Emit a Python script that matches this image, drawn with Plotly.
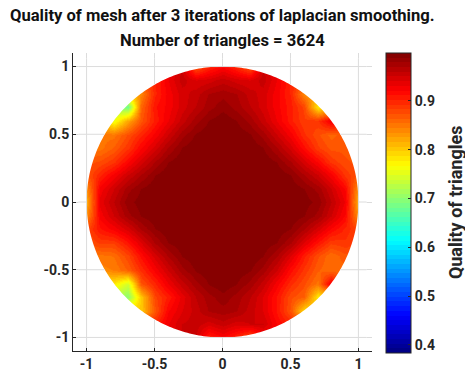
import numpy as np
import plotly.graph_objects as go

grid_x = [-1.0, -0.9, -0.8, -0.7, -0.6, -0.5, -0.4, -0.3, -0.2, -0.1, 0.0, 0.1, 0.2, 0.3, 0.4, 0.5, 0.6, 0.7, 0.8, 0.9, 1.0]
grid_y = [1.0, 0.9, 0.8, 0.7, 0.6, 0.5, 0.4, 0.3, 0.2, 0.1, 0.0, -0.1, -0.2, -0.3, -0.4, -0.5, -0.6, -0.7, -0.8, -0.9, -1.0]

# triangle quality, top row is y = 1
quality = [
    [.90, .90, .90, .90, .90, .90, .93, .95, .87, .90, .92, .90, .87, .95, .93, .90, .90, .90, .90, .90, .90],
    [.88, .88, .88, .88, .88, .90, .93, .955, .94, .945, .955, .945, .94, .955, .93, .90, .88, .88, .88, .88, .88],
    [.80, .80, .80, .80, .84, .90, .925, .945, .955, .97, .975, .97, .955, .945, .925, .90, .84, .82, .82, .82, .82],
    [.80, .80, .72, .68, .86, .91, .925, .945, .96, .975, .985, .975, .96, .945, .925, .905, .88, .78, .80, .85, .85],
    [.82, .82, .76, .82, .87, .905, .93, .955, .975, .989, .996, .989, .975, .955, .93, .905, .885, .89, .93, .90, .90],
    [.85, .85, .85, .875, .90, .925, .95, .975, .99, .996, .996, .996, .99, .975, .95, .925, .895, .875, .86, .87, .87],
    [.85, .85, .865, .89, .92, .945, .97, .989, .996, .996, .996, .996, .996, .989, .97, .945, .915, .885, .87, .87, .87],
    [.87, .875, .89, .92, .945, .97, .988, .996, .996, .996, .996, .996, .996, .996, .988, .97, .945, .92, .89, .875, .87],
    [.87, .90, .925, .95, .97, .988, .996, .996, .996, .996, .996, .996, .996, .996, .996, .988, .97, .95, .925, .89, .87],
    [.84, .925, .95, .975, .989, .996, .996, .996, .996, .996, .996, .996, .996, .996, .996, .996, .989, .975, .95, .92, .83],
    [.82, .935, .96, .985, .993, .996, .996, .996, .996, .996, .996, .996, .996, .996, .996, .996, .993, .985, .96, .93, .81],
    [.84, .925, .95, .975, .989, .996, .996, .996, .996, .996, .996, .996, .996, .996, .996, .996, .989, .975, .95, .92, .83],
    [.88, .91, .925, .945, .97, .988, .996, .996, .996, .996, .996, .996, .996, .996, .996, .988, .97, .945, .92, .90, .88],
    [.87, .885, .885, .91, .94, .97, .988, .996, .996, .996, .996, .996, .996, .996, .988, .97, .94, .91, .885, .89, .88],
    [.85, .85, .855, .88, .915, .945, .97, .989, .996, .996, .996, .996, .996, .989, .97, .94, .905, .875, .855, .87, .87],
    [.84, .84, .845, .865, .895, .925, .95, .975, .99, .996, .996, .996, .99, .975, .95, .915, .89, .865, .855, .86, .86],
    [.78, .78, .78, .74, .87, .90, .93, .955, .975, .989, .996, .989, .975, .955, .925, .895, .875, .85, .93, .85, .85],
    [.78, .78, .72, .70, .80, .88, .905, .935, .96, .975, .985, .975, .96, .94, .91, .875, .865, .78, .80, .80, .80],
    [.80, .80, .80, .80, .80, .87, .92, .94, .955, .97, .975, .97, .955, .94, .91, .87, .79, .80, .80, .80, .80],
    [.88, .88, .88, .88, .88, .90, .93, .95, .955, .945, .955, .945, .95, .95, .92, .90, .88, .88, .88, .88, .88],
    [.90, .90, .90, .90, .90, .90, .93, .95, .95, .90, .92, .90, .87, .92, .92, .90, .90, .90, .90, .90, .90],
]

tick_vals = [-1, -0.5, 0, 0.5, 1]
tick_text = ['-1', '-0.5', '0', '0.5', '1']
bar_vals = [0.4, 0.5, 0.6, 0.7, 0.8, 0.9]
bar_text = ['0.4', '0.5', '0.6', '0.7', '0.8', '0.9']
title_lines = ['Quality of mesh after 3 iterations of laplacian smoothing.', 'Number of triangles = 3624']
bar_title = 'Quality of triangles'

# matlab jet with 64 flat levels
levels = 64
jet = []
for i in range(levels):
    v = (i + 0.5) / levels
    r, g, b = [int(255 * np.clip(1.5 - abs(4 * v - c), 0, 1)) for c in (3, 2, 1)]
    jet.append([i / levels, f'rgb({r},{g},{b})'])
    jet.append([(i + 1) / levels, f'rgb({r},{g},{b})'])

tick_font = dict(family='Roboto', size=14, color='#262626', weight='bold')

fig = go.Figure(go.Heatmap(
    x=grid_x,
    y=grid_y,
    z=quality,
    zsmooth='best',
    zmin=0.3836,
    zmax=0.998,
    colorscale=jet,
    hoverinfo='skip',
    colorbar=dict(
        x=1.048, xanchor='left', xpad=0,
        y=1, yanchor='top', ypad=0,
        lenmode='pixels', len=300,
        thicknessmode='pixels', thickness=25,
        outlinecolor='#262626', outlinewidth=1,
        ticks='inside', ticklen=3, tickcolor='#262626',
        tickvals=bar_vals, ticktext=bar_text, tickfont=tick_font,
    ),
))

# white outside the unit circle, grid lines go back on top of it
t = np.linspace(0, 2 * np.pi, 361)
edge = 1.06
path = f'M {-edge} {-edge} L {edge} {-edge} L {edge} {edge} L {-edge} {edge} Z M '
path += ' L '.join(f'{np.cos(a):.4f} {np.sin(a):.4f}' for a in t) + ' Z'
shapes = [dict(type='path', path=path, fillcolor='white', line_width=0, layer='above')]
grid_line = dict(color='#dcdcdc', width=1)
for v in tick_vals:
    h = np.sqrt(1 - v ** 2)
    for a, b in [(h, edge), (-edge, -h)]:
        shapes.append(dict(type='line', x0=v, x1=v, y0=a, y1=b, line=grid_line, layer='above'))
        shapes.append(dict(type='line', y0=v, y1=v, x0=a, x1=b, line=grid_line, layer='above'))

# the title lines sit above the axes, placed in paper units
notes = [
    dict(text=line, xref='paper', yref='paper', x=0.5, y=1 + dy / 298, xanchor='center', yanchor='middle',
         showarrow=False, font=dict(family='Roboto', size=16.6, color='#111111', weight='bold'))
    for line, dy in zip(title_lines, [37, 13])
]
notes.append(dict(text=bar_title, xref='paper', yref='paper', x=1.278, y=0.5, xanchor='center', yanchor='middle',
                  textangle=-90, showarrow=False,
                  font=dict(family='Roboto', size=18, color='#262626', weight='bold')))

# the page adds 8px of body margin, so the figure starts 8px in
fig.update_layout(
    width=465,
    height=380,
    margin=dict(l=65, r=101, t=45, b=37),
    paper_bgcolor='white',
    plot_bgcolor='white',
    annotations=notes,
    shapes=shapes,
)
axis = dict(
    tickvals=tick_vals, ticktext=tick_text, tickfont=tick_font,
    range=[-1.1, 1.1], showgrid=True, gridcolor='#dcdcdc', gridwidth=1, zeroline=False,
    showline=True, linecolor='#262626', linewidth=1,
    ticks='inside', ticklen=3, tickcolor='#262626',
)
fig.update_xaxes(**axis)
fig.update_yaxes(**axis)

fig.write_html("out.html")
